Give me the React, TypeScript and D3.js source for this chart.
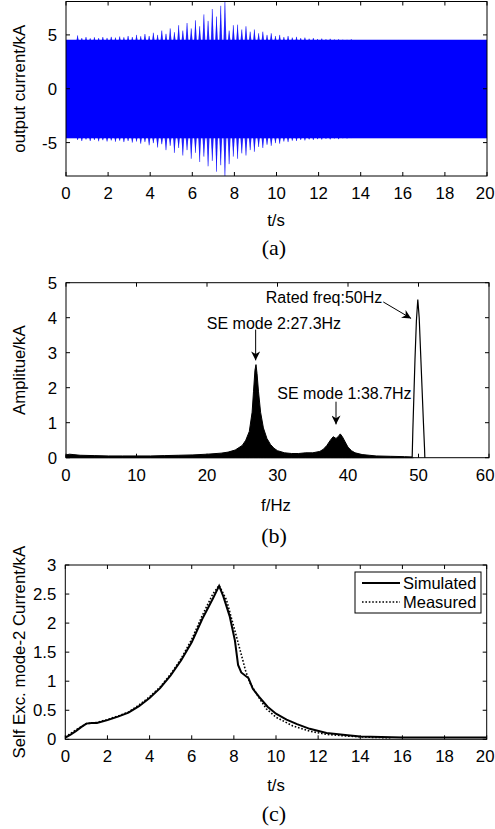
import React from "react";
import * as d3 from "d3";

// ---------- Panel (a): output current envelope ----------
const bandUpper = 4.55;
const bandLower = -4.6;
const spikeTimes = [
  0.55, 0.75, 0.95, 1.15, 1.35, 1.55, 1.75, 1.95, 2.15, 2.35, 2.55, 2.75, 2.95, 3.15, 3.35, 3.55, 3.75,
  3.95, 4.15, 4.35, 4.55, 4.75, 4.95, 5.15, 5.35, 5.55, 5.75, 5.95, 6.15, 6.35, 6.55, 6.75, 6.95, 7.15,
  7.35, 7.55, 7.75, 7.95, 8.15, 8.35, 8.55, 8.75, 8.95, 9.15, 9.35, 9.55, 9.75, 9.95, 10.15, 10.35,
  10.55, 10.75, 10.95, 11.15, 11.35, 11.55, 11.75, 11.95, 12.15, 12.35, 12.55, 12.75, 12.95, 13.15,
  13.35, 13.55,
];
const spikeUpper = [
  4.95, 4.7, 4.8, 4.68, 4.78, 4.7, 4.8, 4.72, 4.82, 4.75, 4.85, 4.78, 4.9, 4.8, 5.0, 4.88, 5.08, 4.9,
  5.2, 5.0, 5.4, 5.1, 5.6, 5.25, 5.9, 5.4, 6.1, 5.6, 6.35, 5.8, 6.9, 6.3, 7.4, 6.7, 7.7, 8.1, 5.4, 5.9,
  5.95, 5.5, 5.8, 5.3, 5.5, 5.15, 5.3, 5.0, 5.15, 4.9, 5.0, 4.8, 4.9, 4.75, 4.82, 4.7, 4.75, 4.65, 4.7,
  4.62, 4.66, 4.6, 4.64, 4.58, 4.6, 4.56, 4.55, 4.6,
];
const spikeLower = [
  -4.75, -4.85, -4.72, -4.85, -4.75, -4.88, -4.78, -4.9, -4.8, -4.92, -4.82, -4.95, -4.85, -5.0, -4.9,
  -5.1, -4.95, -5.25, -5.05, -5.45, -5.15, -5.7, -5.3, -5.95, -5.5, -6.2, -5.7, -6.5, -5.95, -6.8, -6.3,
  -7.2, -6.7, -7.7, -7.1, -8.1, -7.0, -6.3, -6.5, -6.0, -6.2, -5.7, -5.85, -5.4, -5.5, -5.2, -5.3, -5.05,
  -5.1, -4.9, -4.95, -4.82, -4.85, -4.75, -4.8, -4.7, -4.75, -4.68, -4.72, -4.65, -4.7, -4.62, -4.68,
  -4.6, -4.62, -4.58,
];
const aXTicks = [0, 2, 4, 6, 8, 10, 12, 14, 16, 18, 20];
const aYTicks = [-5, 0, 5];

// ---------- Panel (b): spectrum ----------
const specFreq = [
  0, 0.5, 1, 2, 4, 6, 8, 10, 12, 14, 16, 18, 20, 22, 23, 24, 25, 25.5, 26, 26.4, 26.6, 26.8, 26.95,
  27.1, 27.3, 27.6, 28.0, 28.5, 29, 29.5, 30, 31, 32, 33, 34, 35, 36, 36.5, 37, 37.5, 37.9, 38.3,
  38.6, 38.9, 39.2, 39.6, 40, 40.5, 41, 42, 43, 44, 46, 48, 49.3,
];
const specAmp = [
  0.08, 0.1, 0.09, 0.07, 0.06, 0.05, 0.05, 0.05, 0.05, 0.06, 0.07, 0.08, 0.1, 0.13, 0.16, 0.22, 0.35,
  0.5, 0.75, 1.3, 1.9, 2.5, 2.66, 2.4, 1.9, 1.3, 0.85, 0.55, 0.38, 0.27, 0.2, 0.14, 0.12, 0.12, 0.14,
  0.14, 0.18, 0.24, 0.35, 0.5, 0.6, 0.55, 0.6, 0.68, 0.6, 0.45, 0.3, 0.2, 0.14, 0.09, 0.07, 0.05, 0.04,
  0.03, 0.02,
];
const ratedFreq = [49.1, 49.2, 49.35, 49.5, 49.7, 49.9, 50.1, 50.3, 50.5, 50.7, 50.85, 50.9];
const ratedAmp = [0, 0.8, 1.8, 2.8, 3.9, 4.52, 4.0, 3.0, 2.0, 1.0, 0.3, 0];
const bXTicks = [0, 10, 20, 30, 40, 50, 60];
const bYTicks = [0, 1, 2, 3, 4, 5];

// ---------- Panel (c): mode-2 current ----------
const simT = [
  0, 0.25, 0.5, 0.75, 1.0, 1.25, 1.5, 2.0, 2.5, 3.0, 3.5, 4.0, 4.5, 5.0, 5.5, 6.0, 6.5, 7.0, 7.3, 7.5,
  7.8, 8.05, 8.2, 8.35, 8.7, 8.9, 9.2, 9.6, 10.0, 10.5, 11.0, 11.6, 12.4, 13.4, 14, 15, 16, 18, 20,
];
const simV = [
  0.03, 0.08, 0.14, 0.21, 0.27, 0.28, 0.28, 0.33, 0.39, 0.46, 0.57, 0.71, 0.88, 1.1, 1.36, 1.67, 2.07,
  2.42, 2.64, 2.46, 2.12, 1.7, 1.28, 1.15, 1.05, 0.87, 0.73, 0.56, 0.44, 0.34, 0.26, 0.18, 0.11, 0.07,
  0.05, 0.04, 0.03, 0.03, 0.03,
];
const measT = [
  0, 0.5, 1.0, 1.5, 2.0, 2.5, 3.0, 3.5, 4.0, 4.5, 5.0, 5.5, 6.0, 6.5, 7.0, 7.3, 7.65, 7.95, 8.3, 8.55,
  8.75, 9.15, 9.55, 10.0, 10.8, 11.6, 12.4, 13.4, 14.4, 15.5,
];
const measV = [
  0.04, 0.16, 0.27, 0.29, 0.34, 0.4, 0.47, 0.59, 0.73, 0.9, 1.12, 1.39, 1.72, 2.13, 2.5, 2.65, 2.4, 2.0,
  1.53, 1.19, 0.98, 0.74, 0.52, 0.38, 0.23, 0.14, 0.085, 0.055, 0.035, 0.025,
];
const cXTicks = [0, 2, 4, 6, 8, 10, 12, 14, 16, 18, 20];
const cYTicks = [0, 0.5, 1, 1.5, 2, 2.5, 3];
const legendLabels = ["Simulated", "Measured"];

const SANS = "'Liberation Sans', Arimo, Arial, sans-serif";
const SERIF = "'Liberation Serif', 'Times New Roman', serif";
const FS = 16.8;

type FrameProps = {
  x: d3.ScaleLinear<number, number>;
  y: d3.ScaleLinear<number, number>;
  xTicks: number[];
  yTicks: number[];
  xLabel: string;
  yLabel: string;
  caption: string;
  xLabelDy: number;
  captionDy: number;
};

function Frame({ x, y, xTicks, yTicks, xLabel, yLabel, caption, xLabelDy, captionDy }: FrameProps) {
  const [x0, x1] = x.range();
  const [y0, y1] = y.range(); // y0 bottom, y1 top
  const tl = 4;
  const cx = 276;
  const cy = (y0 + y1) / 2;
  return (
    <g>
      <rect x={x0} y={y1} width={x1 - x0} height={y0 - y1} fill="none" stroke="#000" strokeWidth={1} />
      {xTicks.map((t) => {
        const px = x(t);
        const overflow = px + 10 > 495;
        return (
          <g key={"x" + t}>
            <line x1={px} x2={px} y1={y0} y2={y0 - tl} stroke="#000" />
            <line x1={px} x2={px} y1={y1} y2={y1 + tl} stroke="#000" />
            <text
              x={overflow ? 494.5 : px}
              y={y0 + 23}
              textAnchor={overflow ? "end" : "middle"}
              fontFamily={SANS}
              fontSize={FS}
            >
              {String(t)}
            </text>
          </g>
        );
      })}
      {yTicks.map((t) => (
        <g key={"y" + t}>
          <line x1={x0} x2={x0 + tl} y1={y(t)} y2={y(t)} stroke="#000" />
          <line x1={x1} x2={x1 - tl} y1={y(t)} y2={y(t)} stroke="#000" />
          <text x={x0 - 9} y={y(t) + 6} textAnchor="end" fontFamily={SANS} fontSize={FS}>
            {String(t)}
          </text>
        </g>
      ))}
      <text x={cx} y={y0 + xLabelDy} textAnchor="middle" fontFamily={SANS} fontSize={FS}>
        {xLabel}
      </text>
      <text
        transform={`translate(25,${cy}) rotate(-90)`}
        textAnchor="middle"
        fontFamily={SANS}
        fontSize={FS}
      >
        {yLabel}
      </text>
      <text x={cx - 2} y={y0 + captionDy} textAnchor="middle" fontFamily={SERIF} fontSize={22}>
        {caption}
      </text>
    </g>
  );
}

export default function App() {
  // Panel (a)
  const ax = d3.scaleLinear().domain([0, 20]).range([66, 487]);
  const ay = d3.scaleLinear().domain([-8.1, 8.1]).range([176, 1.5]);
  // Panel (b)
  const bx = d3.scaleLinear().domain([0, 60]).range([66, 489]);
  const by = d3.scaleLinear().domain([0, 5]).range([457.7, 282.7]);
  // Panel (c)
  const cx = d3.scaleLinear().domain([0, 20]).range([65.3, 486.7]);
  const cy = d3.scaleLinear().domain([0, 3]).range([739.3, 565]);

  const specArea = d3
    .area<number>()
    .x((_, i) => bx(specFreq[i]))
    .y0(by(0))
    .y1((d) => by(d));
  const ratedLine = d3
    .line<number>()
    .x((_, i) => bx(ratedFreq[i]))
    .y((d) => by(d));
  const simLine = d3
    .line<number>()
    .x((_, i) => cx(simT[i]))
    .y((d) => cy(d));
  const measLine = d3
    .line<number>()
    .x((_, i) => cx(measT[i]))
    .y((d) => cy(d));

  const ann = [
    { text: "SE mode 2:27.3Hz", tx: 29.5, ty: 3.85, ax1: 26.9, ay1: 3.66, ax2: 26.9, ay2: 2.78 },
    { text: "SE mode 1:38.7Hz", tx: 39.5, ty: 1.85, ax1: 38.3, ay1: 1.6, ax2: 38.3, ay2: 0.95 },
    { text: "Rated freq:50Hz", tx: 36.6, ty: 4.6, ax1: 45.0, ay1: 4.45, ax2: 48.95, ay2: 3.98 },
  ];

  const blue = "#0000ff";
  const hw = 0.075; // half-width of a spike in seconds

  const spikePath = (t: number, v: number, base: number) =>
    `M${ax(t - hw)},${ay(base)}L${ax(t)},${ay(v)}L${ax(t + hw)},${ay(base)}Z`;

  return (
    <svg
      width={495}
      height={829}
      style={{ position: "absolute", left: 0, top: 0, background: "#fff" }}
    >
      <defs>
        <marker
          id="arr"
          viewBox="0 0 10 10"
          refX={10}
          refY={5}
          markerWidth={9}
          markerHeight={9}
          markerUnits="userSpaceOnUse"
          orient="auto"
        >
          <path d="M0,0 L10,5 L0,10 L3,5 z" fill="#000" />
        </marker>
        <clipPath id="clipA">
          <rect x={66} y={1.5} width={421} height={174.5} />
        </clipPath>
      </defs>
      <rect x={0} y={0} width={495} height={829} fill="#fff" />

      {/* Panel (a) */}
      <g clipPath="url(#clipA)">
        <rect
          x={ax(0)}
          y={ay(bandUpper)}
          width={ax(20) - ax(0)}
          height={ay(bandLower) - ay(bandUpper)}
          fill={blue}
        />
        {spikeTimes.map((t, i) => (
          <g key={"sp" + i}>
            <path d={spikePath(t, spikeUpper[i], bandUpper - 0.2)} fill={blue} fillOpacity={0.8} />
            <path d={spikePath(t, spikeLower[i], bandLower + 0.2)} fill={blue} fillOpacity={0.8} />
            <line
              x1={ax(t)}
              x2={ax(t)}
              y1={ay(0)}
              y2={ay(spikeUpper[i])}
              stroke={blue}
              strokeWidth={1}
              strokeOpacity={0.6}
            />
            <line
              x1={ax(t)}
              x2={ax(t)}
              y1={ay(0)}
              y2={ay(spikeLower[i])}
              stroke={blue}
              strokeWidth={1}
              strokeOpacity={0.6}
            />
          </g>
        ))}
      </g>
      <Frame
        x={ax}
        y={ay}
        xTicks={aXTicks}
        yTicks={aYTicks}
        xLabel="t/s"
        yLabel="output current/kA"
        caption="(a)"
        xLabelDy={50}
        captionDy={79}
      />

      {/* Panel (b) */}
      <path d={specArea(specAmp) || ""} fill="#000" stroke="#000" strokeWidth={1} />
      <path d={ratedLine(ratedAmp) || ""} fill="#fff" stroke="#000" strokeWidth={1.2} />
      {ann.map((a) => (
        <g key={a.text}>
          <text
            x={bx(a.tx)}
            y={by(a.ty) + 6}
            textAnchor="middle"
            fontFamily={SANS}
            fontSize={16}
          >
            {a.text}
          </text>
          <line
            x1={bx(a.ax1)}
            y1={by(a.ay1)}
            x2={bx(a.ax2)}
            y2={by(a.ay2)}
            stroke="#000"
            strokeWidth={1}
            markerEnd="url(#arr)"
          />
        </g>
      ))}
      <Frame
        x={bx}
        y={by}
        xTicks={bXTicks}
        yTicks={bYTicks}
        xLabel="f/Hz"
        yLabel="Amplitue/kA"
        caption="(b)"
        xLabelDy={53}
        captionDy={85}
      />

      {/* Panel (c) */}
      <path d={measLine(measV) || ""} fill="none" stroke="#000" strokeWidth={1.6} strokeDasharray="1.6,1.8" />
      <path d={simLine(simV) || ""} fill="none" stroke="#000" strokeWidth={2} />
      <Frame
        x={cx}
        y={cy}
        xTicks={cXTicks}
        yTicks={cYTicks}
        xLabel="t/s"
        yLabel="Self Exc. mode-2 Current/kA"
        caption="(c)"
        xLabelDy={52}
        captionDy={82}
      />
      <g>
        <rect x={355} y={572} width={126} height={41} fill="#fff" stroke="#000" strokeWidth={1} />
        {legendLabels.map((l, i) => (
          <g key={l}>
            <line
              x1={362}
              x2={400}
              y1={583 + i * 19}
              y2={583 + i * 19}
              stroke="#000"
              strokeWidth={i === 0 ? 2 : 1.6}
              strokeDasharray={i === 0 ? undefined : "1.6,1.8"}
            />
            <text x={403} y={583 + i * 19 + 6} fontFamily={SANS} fontSize={16.5}>
              {l}
            </text>
          </g>
        ))}
      </g>
    </svg>
  );
}
